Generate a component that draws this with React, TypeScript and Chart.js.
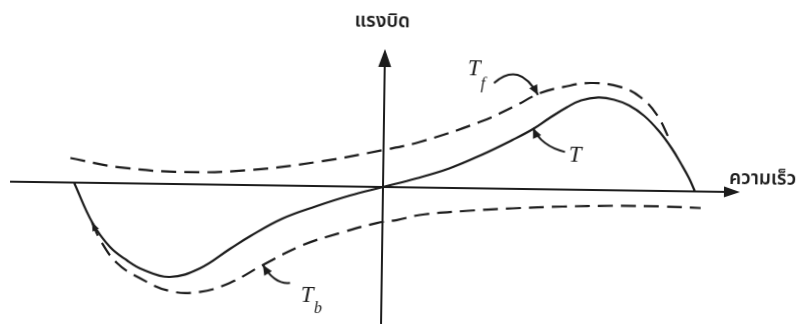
import React, { useEffect, useRef } from "react";
import { Chart, registerables } from "chart.js";

Chart.register(...registerables);

// Speed (horizontal) and torque (vertical) in arbitrary units; origin at (0, 0).
// T: motor torque curve
const speedT = [-30.9, -29.0, -27.2, -25.5, -23.9, -21.2, -18.2, -15.2, -13.2, -10.0, -6.6, -3.3, 0, 3.3, 6.6, 9.7, 12.9, 14.9, 16.5, 18.3, 19.7, 21.4, 23.0, 24.5, 26.0, 27.5, 28.8, 29.8, 30.6, 31.2];
const torqueT = [0, -4.0, -6.4, -7.7, -8.6, -9.3, -8.4, -6.4, -5.1, -3.3, -2.0, -0.9, 0, 0.9, 1.95, 3.3, 4.9, 6.0, 7.1, 8.25, 8.95, 9.26, 9.05, 8.5, 7.5, 6.0, 4.3, 2.7, 1.3, 0];

// Tf: upper (forward) dashed curve
const speedTf = [-31.3, -26.6, -20.0, -13.3, -6.6, 0, 3.6, 9.6, 12.9, 15.6, 17.9, 20.6, 23.6, 25.6, 27.3, 28.6];
const torqueTf = [2.45, 1.62, 1.21, 1.51, 2.41, 3.7, 4.55, 6.64, 8.19, 9.62, 10.26, 10.7, 10.34, 9.37, 7.59, 5.11];

// Tb: lower (braking) dashed curve
const speedTb = [-29.05, -28.2, -26.5, -24.2, -21.2, -18.2, -15.2, -11.9, -7.9, -3.9, -0.55, 1.45, 3.7, 8, 13, 18, 23, 28, 31.8];
const torqueTb = [-3.92, -5.7, -7.98, -9.45, -10.7, -10.76, -9.82, -7.97, -5.91, -4.56, -3.61, -3.28, -2.75, -2.3, -1.95, -1.7, -1.55, -1.55, -1.65];

// Axis titles and curve labels
const torqueTitle = "แรงบิด";
const speedTitle = "ความเร็ว";
const curveNames = ["T", "T", "T"];
const curveSubs = ["", "f", "b"];

// Visible axis extents
const speedAxis = [-37.3, 35.7];
const torqueAxis = [-16, 13.8];

const INK = "#1c1c1c";
const THAI_FONT = '"Noto Sans Thai", "Noto Sans Thai Looped", Garuda, Loma, Kinnari, Tahoma, "Noto Sans", sans-serif';
const SERIF = '"Liberation Serif", "Times New Roman", "DejaVu Serif", serif';

function arrowHead(ctx: CanvasRenderingContext2D, tx: number, ty: number, dx: number, dy: number, len: number, half: number) {
  const m = Math.hypot(dx, dy) || 1;
  const ux = dx / m, uy = dy / m;
  const bx = tx - ux * len, by = ty - uy * len;
  ctx.beginPath();
  ctx.moveTo(tx, ty);
  ctx.lineTo(bx - uy * half, by + ux * half);
  ctx.lineTo(bx + uy * half, by - ux * half);
  ctx.closePath();
  ctx.fill();
}

const diagramPlugin = {
  id: "torqueDiagram",
  afterDatasetsDraw(chart: any) {
    const { ctx, scales } = chart;
    const X = (v: number) => scales.x.getPixelForValue(v);
    const Y = (v: number) => scales.y.getPixelForValue(v);
    ctx.save();
    ctx.strokeStyle = INK;
    ctx.fillStyle = INK;
    ctx.lineCap = "butt";

    // axes
    ctx.lineWidth = 2;
    ctx.beginPath();
    ctx.moveTo(X(speedAxis[0]), Y(0));
    ctx.lineTo(X(speedAxis[1]) - 10, Y(0));
    ctx.moveTo(X(0), Y(torqueAxis[0]));
    ctx.lineTo(X(0), Y(torqueAxis[1]) + 12);
    ctx.stroke();
    arrowHead(ctx, X(speedAxis[1]), Y(0), 1, 0, 16, 5.5);
    arrowHead(ctx, X(0), Y(torqueAxis[1]), 0, -1, 18, 6.5);

    // axis titles
    ctx.font = `600 19px ${THAI_FONT}`;
    ctx.textBaseline = "middle";
    ctx.textAlign = "center";
    ctx.fillText(torqueTitle, X(-0.3), Y(16.4));
    ctx.textAlign = "left";
    ctx.fillText(speedTitle, X(34.6), Y(1.15));

    // start arrow of the Tb curve
    {
      const x0 = X(speedTb[0]), y0 = Y(torqueTb[0]);
      const x1 = X(speedTb[1]), y1 = Y(torqueTb[1]);
      arrowHead(ctx, x0, y0, x0 - x1, y0 - y1, 9, 3.5);
    }

    // curved pointer arrows
    const pointer = (s: number[], c: number[], e: number[]) => {
      ctx.lineWidth = 2;
      ctx.beginPath();
      ctx.moveTo(X(s[0]), Y(s[1]));
      ctx.quadraticCurveTo(X(c[0]), Y(c[1]), X(e[0]), Y(e[1]));
      ctx.stroke();
      arrowHead(ctx, X(e[0]), Y(e[1]), X(e[0]) - X(c[0]), Y(e[1]) - Y(c[1]), 10, 4.5);
    };
    pointer([10.95, 10.56], [13.44, 12.81], [15.37, 9.42]);
    pointer([18.15, 3.76], [15.75, 4.33], [14.92, 6.11]);
    pointer([-9.16, -9.73], [-10.7, -9.9], [-11.89, -7.97]);

    // curve labels
    const label = (name: string, sub: string, nx: number, ny: number, sx: number, sy: number) => {
      ctx.textAlign = "center";
      ctx.textBaseline = "middle";
      ctx.font = `italic 23px ${SERIF}`;
      ctx.fillText(name, X(nx), Y(ny));
      if (sub) {
        ctx.font = `italic 16px ${SERIF}`;
        ctx.fillText(sub, X(sx), Y(sy));
      }
    };
    label(curveNames[0], curveSubs[0], 19.16, 3.37, 0, 0);
    label(curveNames[1], curveSubs[1], 8.93, 11.93, 9.85, 10.44);
    label(curveNames[2], curveSubs[2], -7.44, -11.0, -6.33, -12.3);

    ctx.restore();
  },
};

function points(xs: number[], ys: number[]) {
  return xs.map((x, i) => ({ x, y: ys[i] }));
}

export default function App() {
  const ref = useRef<HTMLCanvasElement | null>(null);

  useEffect(() => {
    if (!ref.current) return;
    const base = {
      borderColor: INK,
      borderWidth: 2.2,
      pointRadius: 0,
      fill: false,
      tension: 0.4,
    };
    const chart = new Chart(ref.current, {
      type: "line",
      data: {
        datasets: [
          { ...base, label: "T", data: points(speedT, torqueT) },
          { ...base, label: "Tf", data: points(speedTf, torqueTf), borderDash: [15, 8] },
          { ...base, label: "Tb", data: points(speedTb, torqueTb), borderDash: [15, 8] },
        ],
      },
      options: {
        responsive: false,
        animation: false,
        events: [],
        layout: { padding: 0 },
        plugins: { legend: { display: false }, tooltip: { enabled: false } },
        scales: {
          x: { type: "linear", display: false, min: -38.3, max: 41.7 },
          y: { type: "linear", display: false, min: -13.7, max: 18.7 },
        },
      },
      plugins: [diagramPlugin],
    });
    return () => chart.destroy();
  }, []);

  return (
    <div style={{ position: "fixed", left: 0, top: 0, width: 800, height: 324, background: "#fff", overflow: "hidden" }}>
      <canvas
        ref={ref}
        width={800}
        height={324}
        style={{ display: "block", width: 800, height: 324, transform: "rotate(0.82deg)", transformOrigin: "383px 187px" }}
      />
    </div>
  );
}
